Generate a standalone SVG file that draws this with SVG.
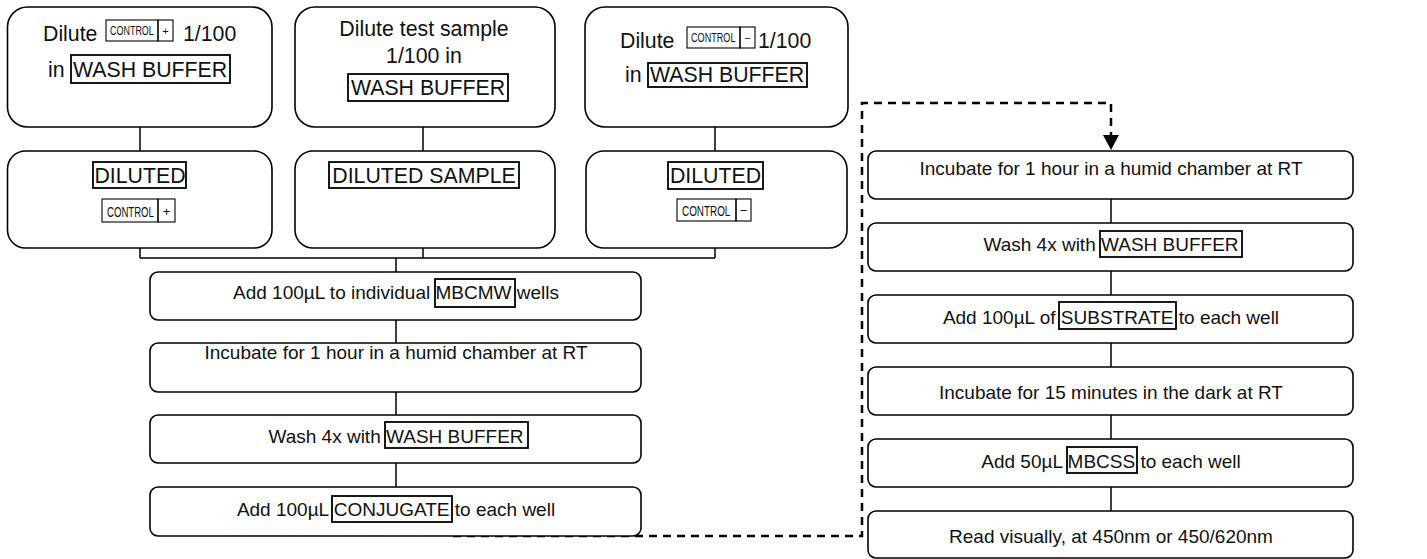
<svg xmlns="http://www.w3.org/2000/svg" width="1427" height="559" viewBox="0 0 1427 559">
<style>
.box{fill:#fff;stroke:#000;stroke-width:1.6}
.tag{fill:none;stroke:#000;stroke-width:1.8}
.stag{fill:none;stroke:#000;stroke-width:1.1}
.t{font-family:"Liberation Sans",Arial,sans-serif;font-size:19px;fill:#111}
.tb{font-family:"Liberation Sans",Arial,sans-serif;font-size:21.3px;fill:#111}
.c{font-family:"Liberation Sans",Arial,sans-serif;fill:#111}
.m{text-anchor:middle}
.con{fill:none;stroke:#000;stroke-width:1.5}
.dash{fill:none;stroke:#000;stroke-width:2.5;stroke-dasharray:8 6}
</style>
<rect width="1427" height="559" fill="#fff"/>
<g id="connectors">
<path class="con" d="M140 127V151M423 127V151M715 127V151M140 248V258M423 248V258M715 248V258M140 258H715M396 258V272M396 320V343M396 392V415M396 463V487"/>
<path class="con" d="M1111 199V223M1111 271V295M1111 343V367M1111 415V439M1111 487V511"/>
<path class="dash" d="M453 536H862V103H1111V136"/>
<polygon points="1103,135 1119,135 1111,150" fill="#000"/>
</g>
<g id="dil-pos">
<rect class="box" x="7.5" y="7" width="264.5" height="120" rx="20"/>
<text class="tb" x="43" y="41">Dilute</text>
<rect class="stag" x="106" y="20" width="52" height="21"/>
<rect class="stag" x="158" y="20" width="15" height="21"/>
<text class="c" transform="translate(110,35) scale(0.69,1)" font-size="13">CONTROL</text>
<text class="c m" x="165.5" y="35" font-size="11">+</text>
<text class="tb" x="183" y="41">1/100</text>
<text class="tb" x="48" y="77">in</text>
<rect class="tag" x="71" y="55" width="159" height="28"/>
<text class="tb" x="73" y="77">WASH BUFFER</text>
</g>
<g id="dil-sample">
<rect class="box" x="295" y="7" width="260" height="120" rx="20"/>
<text class="tb m" x="424" y="36">Dilute test sample</text>
<text class="tb m" x="424" y="63">1/100 in</text>
<rect class="tag" x="348" y="74" width="160" height="27"/>
<text class="tb m" x="428" y="95">WASH BUFFER</text>
</g>
<g id="dil-neg">
<rect class="box" x="585" y="7" width="263" height="120" rx="20"/>
<text class="tb" x="620" y="48">Dilute</text>
<rect class="stag" x="687" y="27" width="53" height="21"/>
<rect class="stag" x="740" y="27" width="15" height="21"/>
<text class="c" transform="translate(691,42) scale(0.7,1)" font-size="13">CONTROL</text>
<text class="c m" x="747.5" y="42" font-size="11">−</text>
<text class="tb" x="758" y="48">1/100</text>
<text class="tb" x="625" y="82">in</text>
<rect class="tag" x="648" y="63" width="159" height="24"/>
<text class="tb" x="650" y="82">WASH BUFFER</text>
</g>
<g id="diluted-pos">
<rect class="box" x="7.5" y="151" width="264.5" height="97" rx="18"/>
<rect class="tag" x="93" y="162" width="93" height="26"/>
<text class="tb m" x="140" y="183">DILUTED</text>
<rect class="stag" x="102" y="199" width="56" height="23"/>
<rect class="stag" x="158" y="199" width="17" height="23"/>
<text class="c" transform="translate(107,217) scale(0.64,1)" font-size="15">CONTROL</text>
<text class="c m" x="166.5" y="216" font-size="13">+</text>
</g>
<g id="diluted-sample">
<rect class="box" x="295" y="151" width="260" height="97" rx="18"/>
<rect class="tag" x="329" y="162" width="190" height="26"/>
<text class="tb m" x="424" y="183">DILUTED SAMPLE</text>
</g>
<g id="diluted-neg">
<rect class="box" x="586" y="151" width="261" height="97" rx="18"/>
<rect class="tag" x="668" y="162" width="95" height="27"/>
<text class="tb m" x="715.5" y="183">DILUTED</text>
<rect class="stag" x="677" y="199" width="59" height="22"/>
<rect class="stag" x="736" y="199" width="15" height="22"/>
<text class="c" transform="translate(682,216) scale(0.66,1)" font-size="15">CONTROL</text>
<text class="c m" x="743.5" y="215" font-size="13">−</text>
</g>
<g id="add-wells">
<rect class="box" x="150" y="272" width="491" height="48" rx="8"/>
<rect class="tag" x="435" y="279" width="80" height="28"/>
<text class="t m" x="396" y="299">Add 100µL to individual MBCMW wells</text>
</g>
<g id="incubate1">
<rect class="box" x="150" y="343" width="491" height="49" rx="8"/>
<text class="t m" x="396" y="359">Incubate for 1 hour in a humid chamber at RT</text>
</g>
<g id="wash1">
<rect class="box" x="150" y="415" width="491" height="48" rx="8"/>
<rect class="tag" x="385" y="422" width="143" height="26"/>
<text class="t m" x="396" y="443">Wash 4x with WASH BUFFER</text>
</g>
<g id="conjugate">
<rect class="box" x="150" y="487" width="491" height="49" rx="8"/>
<rect class="tag" x="332" y="496" width="120" height="26"/>
<text class="t m" x="396" y="516">Add 100µL CONJUGATE to each well</text>
</g>
<g id="incubate2">
<rect class="box" x="868" y="151" width="485" height="48" rx="8"/>
<text class="t m" x="1111" y="175">Incubate for 1 hour in a humid chamber at RT</text>
</g>
<g id="wash2">
<rect class="box" x="868" y="223" width="485" height="48" rx="8"/>
<rect class="tag" x="1100" y="231" width="142" height="26"/>
<text class="t m" x="1111" y="251">Wash 4x with WASH BUFFER</text>
</g>
<g id="substrate">
<rect class="box" x="868" y="295" width="485" height="48" rx="8"/>
<rect class="tag" x="1059" y="302" width="117" height="27"/>
<text class="t m" x="1111" y="324">Add 100µL of SUBSTRATE to each well</text>
</g>
<g id="incubate3">
<rect class="box" x="868" y="367" width="485" height="48" rx="8"/>
<text class="t m" x="1111" y="399">Incubate for 15 minutes in the dark at RT</text>
</g>
<g id="stop">
<rect class="box" x="868" y="439" width="485" height="48" rx="8"/>
<rect class="tag" x="1067" y="447" width="70" height="26"/>
<text class="t m" x="1111" y="468">Add 50µL MBCSS to each well</text>
</g>
<g id="read">
<rect class="box" x="868" y="511" width="485" height="47" rx="8"/>
<text class="t m" x="1111" y="543">Read visually, at 450nm or 450/620nm</text>
</g>
</svg>
